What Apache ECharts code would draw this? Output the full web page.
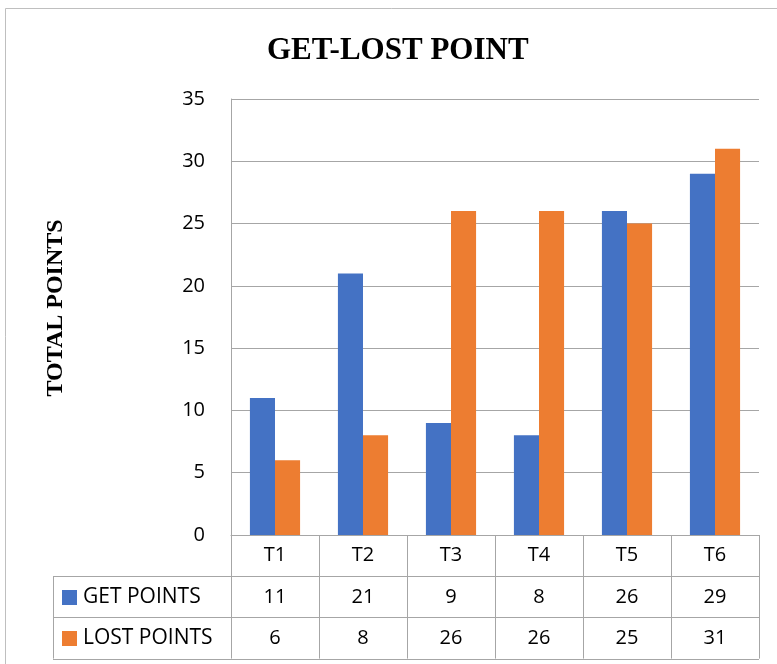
<!DOCTYPE html>
<html>
<head>
<meta charset="utf-8">
<script src="https://cdn.jsdelivr.net/npm/echarts@6/dist/echarts.min.js"></script>
<style>
  html, body { margin: 0; padding: 0; background: #fff; }
  #chart { width: 777px; height: 664px; }
</style>
</head>
<body>
<div id="chart"></div>
<script>
const categories = ["T1", "T2", "T3", "T4", "T5", "T6"];
const getPoints = [11, 21, 9, 8, 26, 29];
const lostPoints = [6, 8, 26, 26, 25, 31];
const seriesNames = ["GET POINTS", "LOST POINTS"];
const colors = ["#4472C4", "#ED7D31"];

const chart = echarts.init(document.getElementById("chart"));
const lineColor = "#a6a6a6";
const numFont = "'Open Sans', 'Liberation Sans', sans-serif";
const serif = "'Liberation Serif', serif";

const option = {
  animation: false,
  backgroundColor: "#fff",
  title: {
    text: "GET-LOST POINT",
    left: 262,
    top: 30,
    textStyle: { fontFamily: serif, fontWeight: "bold", fontSize: 31, color: "#000" },
  },
  grid: { left: 231, right: 18, top: 99, bottom: 129 },
  xAxis: {
    type: "category",
    data: categories,
    axisLine: { show: true, lineStyle: { color: lineColor } },
    axisTick: { show: false },
    axisLabel: { fontSize: 20, color: "#000", margin: 10, fontFamily: numFont },
  },
  yAxis: {
    type: "value",
    min: 0,
    max: 35,
    interval: 5,
    axisLine: { show: true, lineStyle: { color: lineColor } },
    axisTick: { show: false },
    axisLabel: { fontSize: 20, color: "#000", margin: 26, fontFamily: numFont },
    splitLine: { lineStyle: { color: lineColor, width: 1 } },
  },
  series: [
    {
      name: seriesNames[0],
      type: "bar",
      data: getPoints,
      barGap: "0%",
      barCategoryGap: "43%",
      itemStyle: { color: colors[0] },
    },
    {
      name: seriesNames[1],
      type: "bar",
      data: lostPoints,
      barGap: "0%",
      barCategoryGap: "43%",
      itemStyle: { color: colors[1] },
    },
  ],
};

chart.setOption(option);

// data table under the axis, placed from the axis scale
const y0 = chart.convertToPixel({ yAxisIndex: 0 }, 0);
const c0 = chart.convertToPixel({ xAxisIndex: 0 }, categories[0]);
const c1 = chart.convertToPixel({ xAxisIndex: 0 }, categories[1]);
const step = c1 - c0;
const xLeft = c0 - step / 2;
const xRight = xLeft + step * categories.length;
const legLeft = 53;
const rowH = 41.2;
const rows = [y0, y0 + rowH, y0 + rowH * 2, y0 + rowH * 3];

const graphics = [];
const line = (x1, y1, x2, y2) => ({
  type: "line",
  shape: { x1, y1, x2, y2 },
  style: { stroke: lineColor, lineWidth: 1 },
  silent: true,
});

// outer frame
graphics.push({
  type: "rect",
  shape: { x: 5.5, y: 8.5, width: 800, height: 700 },
  style: { fill: null, stroke: "#bfbfbf", lineWidth: 1 },
  silent: true,
});

// y axis title
graphics.push({
  type: "text",
  x: 56,
  y: 308,
  rotation: Math.PI / 2,
  style: {
    text: "TOTAL POINTS",
    fontFamily: serif,
    fontWeight: "bold",
    fontSize: 24,
    fill: "#000",
    align: "center",
    verticalAlign: "middle",
  },
  silent: true,
});

for (let i = 0; i <= categories.length; i++) {
  const x = Math.round(xLeft + step * i) + 0.5;
  graphics.push(line(x, rows[0], x, rows[3]));
}
graphics.push(line(legLeft + 0.5, rows[1], legLeft + 0.5, rows[3]));
for (let r = 1; r <= 3; r++) {
  const y = Math.round(rows[r]) + 0.5;
  graphics.push(line(legLeft, y, xRight, y));
}

[getPoints, lostPoints].forEach((vals, r) => {
  const cy = (rows[r + 1] + rows[r + 2]) / 2;
  graphics.push({
    type: "rect",
    shape: { x: 62, y: Math.round(cy) - 7, width: 15, height: 15 },
    style: { fill: colors[r] },
    silent: true,
  });
  graphics.push({
    type: "text",
    x: 83,
    y: cy,
    style: {
      text: seriesNames[r],
      fontSize: 21,
      fontFamily: numFont,
      fill: "#000",
      verticalAlign: "middle",
    },
    silent: true,
  });
  vals.forEach((v, i) => {
    graphics.push({
      type: "text",
      x: chart.convertToPixel({ xAxisIndex: 0 }, categories[i]),
      y: cy,
      style: {
        text: String(v),
        fontSize: 20,
        fontFamily: numFont,
        fill: "#000",
        align: "center",
        verticalAlign: "middle",
      },
      silent: true,
    });
  });
});

chart.setOption({ graphic: graphics });
</script>
</body>
</html>
